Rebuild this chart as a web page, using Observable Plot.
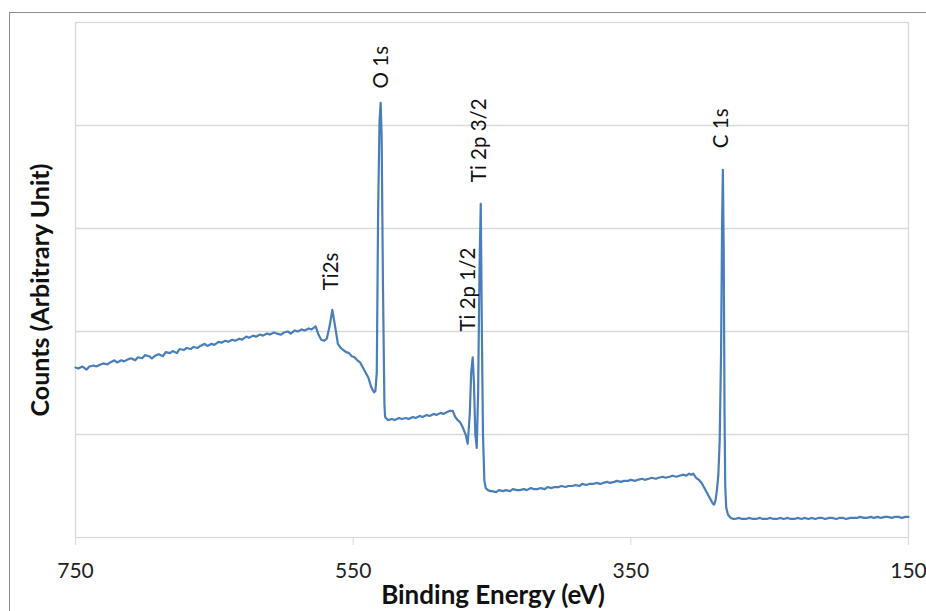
<!DOCTYPE html>
<html>
<head>
<meta charset="utf-8">
<script src="https://cdn.jsdelivr.net/npm/d3@7"></script>
<script src="https://cdn.jsdelivr.net/npm/@observablehq/plot@0.6"></script>
<style>
  body { margin: 0; background: #fff; }
  #wrap { position: relative; width: 926px; height: 611px; overflow: hidden; }
  #border { position: absolute; left: 9px; top: 12px; width: 940px; height: 640px;
            border: 1.5px solid #8c8c8c; pointer-events: none; box-sizing: border-box; }
</style>
</head>
<body>
<div id="wrap"><div id="border"></div></div>
<script>
// Binding energy (eV) and counts (arbitrary units)
const energy = [
  750,748,745,742,740,737,735,732,730,727,725,722,720,717,715,712,710,707,705,702,
  700,697,695,692,690,687,685,682,680,677,675,672,670,667,665,662,660,657,655,652,
  650,647,645,642,640,637,635,632,630,627,625,622,620,617,615,612,610,607,605,602,
  600,597,595,592,590,587,585,582,580,578,577,575,573,571,569,567,565,563,561,559,
  557,555,553,551,549,547,545,543,541,539,537,535,534,533,532,531,530.2,529.5,528.5,527.5,
  527,525,522,520,517,515,512,510,507,505,502,500,497,495,492,490,487,485,482,480,
  478.3,476.5,474.7,473,471.1,469,467.5,466,465,463.9,463,462,461,460,459,458.1,457.3,456.5,455.5,454.5,
  453,451,450,447,445,442,440,437,435,432,430,427,425,422,420,417,415,412,410,407,
  405,402,400,397,395,392,390,387,385,382,380,377,375,372,370,367,365,362,360,357,
  355,352,350,347,345,342,340,337,335,332,330,327,325,322,320,317,315,312,310,308,
  306.5,305,303,301,299,297,295,293,291,290,289,288,287,286,285,284.3,283.7,283.1,282.5,282,
  281.3,280,278,276,275,272,270,267,265,262,260,257,255,252,250,247,245,242,240,237,
  235,232,230,227,225,222,220,217,215,212,210,207,205,202,200,197,195,192,190,187,
  185,182,180,177,175,172,170,167,165,162,160,157,155,152,150
];
const counts = [
  1.65,1.64,1.66,1.63,1.66,1.67,1.66,1.68,1.69,1.68,1.70,1.72,1.70,1.72,1.71,1.73,1.74,1.72,1.75,1.74,
  1.77,1.76,1.74,1.77,1.78,1.76,1.80,1.79,1.81,1.79,1.83,1.82,1.84,1.83,1.85,1.84,1.86,1.88,1.86,1.88,
  1.87,1.90,1.89,1.91,1.90,1.92,1.91,1.93,1.92,1.95,1.94,1.96,1.95,1.97,1.96,1.98,1.97,1.99,1.98,1.97,
  1.99,2.00,1.98,2.01,2.00,2.02,2.01,2.03,2.02,2.04,2.05,1.97,1.92,1.91,1.93,2.05,2.21,2.05,1.88,1.84,
  1.82,1.80,1.79,1.76,1.75,1.72,1.70,1.65,1.60,1.55,1.46,1.41,1.42,1.60,3.20,4.05,4.22,3.90,2.40,1.30,
  1.17,1.14,1.15,1.14,1.16,1.15,1.16,1.15,1.17,1.16,1.18,1.17,1.19,1.18,1.20,1.19,1.21,1.20,1.22,1.23,
  1.23,1.17,1.14,1.12,1.07,1.00,0.91,1.20,1.60,1.75,1.50,1.00,0.87,1.40,2.60,3.24,2.00,1.00,0.55,0.48,
  0.46,0.45,0.45,0.44,0.46,0.45,0.46,0.45,0.47,0.46,0.46,0.47,0.46,0.48,0.47,0.47,0.48,0.47,0.49,0.48,
  0.49,0.49,0.50,0.49,0.50,0.50,0.51,0.50,0.52,0.51,0.52,0.52,0.53,0.52,0.53,0.54,0.53,0.54,0.55,0.54,
  0.55,0.55,0.56,0.55,0.56,0.57,0.56,0.57,0.58,0.57,0.58,0.59,0.58,0.59,0.60,0.59,0.60,0.61,0.60,0.62,
  0.61,0.62,0.58,0.56,0.53,0.48,0.43,0.38,0.33,0.32,0.36,0.46,0.60,0.94,1.80,3.00,3.57,2.80,1.20,0.50,
  0.29,0.22,0.19,0.18,0.18,0.19,0.18,0.18,0.19,0.18,0.18,0.19,0.18,0.18,0.19,0.18,0.18,0.19,0.18,0.19,
  0.18,0.18,0.19,0.18,0.19,0.18,0.19,0.18,0.19,0.19,0.18,0.19,0.19,0.18,0.19,0.19,0.18,0.19,0.19,0.19,
  0.20,0.19,0.19,0.20,0.19,0.20,0.19,0.20,0.20,0.19,0.20,0.20,0.19,0.20,0.20
];
const xTicks = [750, 550, 350, 150];
const gridLevels = [1, 2, 3, 4];
const peakNames = ["O 1s", "Ti2s", "Ti 2p 1/2", "Ti 2p 3/2", "C 1s"];
const peakEnergy = [529.5, 565.5, 466.8, 459.2, 285];
const peakLabelY = [4.36, 2.40, 2.0, 3.45, 3.78];
const xTitle = "Binding Energy (eV)";
const yTitle = "Counts (Arbitrary Unit)";

const spectrum = energy.map((e, i) => ({e, c: counts[i]}));
const peaks = peakNames.map((n, i) => ({n, e: peakEnergy[i], y: peakLabelY[i]}));

const chart = Plot.plot({
  width: 926,
  height: 611,
  marginLeft: 75,
  marginRight: 18,
  marginTop: 22,
  marginBottom: 74,
  style: {fontFamily: "Lato, 'Open Sans', sans-serif", background: "transparent", color: "#222"},
  x: {domain: [750, 150], ticks: xTicks},
  y: {domain: [0, 5], axis: null},
  marks: [
    Plot.ruleY(gridLevels, {stroke: "#d9d9d9", strokeWidth: 1.3}),
    Plot.frame({stroke: "#d9d9d9", strokeWidth: 1.3}),
    Plot.axisX({ticks: xTicks, tickSize: 8, tickPadding: 18, fontSize: 21, stroke: "#d9d9d9", label: null, tickFormat: d => String(d)}),
    Plot.line(spectrum, {x: "e", y: "c", stroke: "#4a7ebb", strokeWidth: 2.2, strokeLinejoin: "round"}),
    Plot.text(peaks, {x: "e", y: "y", text: "n", rotate: -90, textAnchor: "start", fontSize: 20.5, fill: "#111"}),
    Plot.text([xTitle], {frameAnchor: "bottom", dy: 58, dx: 1, lineAnchor: "middle", textAnchor: "middle", fontSize: 26, fontWeight: "bold", fill: "#111"}),
    Plot.text([yTitle], {frameAnchor: "left", dx: -35, dy: 10, rotate: -90, textAnchor: "middle", lineAnchor: "middle", fontSize: 25, fontWeight: "bold", fill: "#111"})
  ]
});
document.getElementById("wrap").prepend(chart);
</script>
</body>
</html>
